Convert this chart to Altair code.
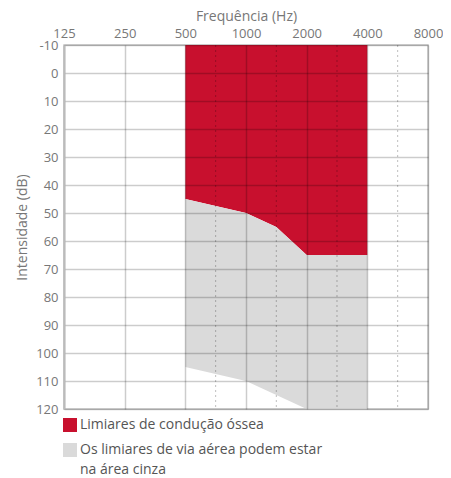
import altair as alt
import pandas as pd

# ---- data ----
freqs = [500, 1000, 1414, 2000, 4000]          # Hz (1414 = half-octave line "1500")
bone = [45, 50, 55, 65, 65]                      # bone-conduction limit (dB)
air_low = [105, 110, 115, 120, 120]              # lower edge of grey area (dB)
top_db = -10
series = ["Limiares de condução óssea",
          "Os limiares de via aérea podem estar na área cinza"]
colors = ["#c8102e", "#dadada"]
x_ticks = [125, 250, 500, 1000, 2000, 4000, 8000]
mid_freqs = [707, 1414, 2828, 5657]
y_ticks = list(range(-10, 121, 10))

rows = []
for f, b, a in zip(freqs, bone, air_low):
    rows.append({"f": f, "serie": series[0], "y": b, "y2": top_db})
    rows.append({"f": f, "serie": series[1], "y": a, "y2": b})
df = pd.DataFrame(rows)
mid_df = pd.DataFrame({"f": mid_freqs})

xscale = alt.Scale(type="log", base=2, domain=[125, 8000], nice=False)
yscale = alt.Scale(domain=[-10, 120], reverse=True, nice=False, zero=False)

areas = alt.Chart(df).mark_area(interpolate="linear", opacity=1).encode(
    x=alt.X("f:Q", scale=xscale,
            axis=alt.Axis(orient="top", values=x_ticks, title="Frequência (Hz)",
                          format="d", labelFlush=False, ticks=False, domain=False,
                          grid=True, zindex=1, labelPadding=5, titlePadding=4)),
    y=alt.Y("y:Q", scale=yscale, stack=None,
            axis=alt.Axis(values=y_ticks, title="Intensidade (dB)", ticks=False,
                          grid=True, zindex=1, labelPadding=6, titlePadding=6,
                          domain=True, labelExpr="replace(datum.label, '−', '-')")),
    y2="y2:Q",
    color=alt.Color("serie:N",
                    scale=alt.Scale(domain=series, range=colors),
                    legend=alt.Legend(
                        title=None, orient="none", legendX=-1, legendY=366,
                        direction="vertical", symbolType="M-1,0H1V2H-1Z",
                        symbolSize=196, symbolStrokeWidth=0, symbolOpacity=1,
                        labelFontSize=14, labelColor="#555", padding=0,
                        rowPadding=4, labelOffset=3, labelLimit=400,
                        labelBaseline="top",
                        labelExpr="datum.label == 'Os limiares de via aérea podem estar na área cinza' ? ['Os limiares de via aérea podem estar', 'na área cinza'] : datum.label",
                    )),
)

dotted = alt.Chart(mid_df).mark_rule(strokeDash=[2, 3], color="#000",
                                     opacity=0.25, strokeWidth=1).encode(
    x=alt.X("f:Q", scale=xscale)
)

chart = alt.layer(areas, dotted).properties(
    width=364, height=364,
    padding={"left": 7, "top": 1, "right": 0, "bottom": 0},
).configure(
    font="Open Sans",
    style={"guide-label": {"lineHeight": 20}},
).configure_axis(
    labelFontSize=13, labelColor="#777", titleFontSize=14, titleColor="#777",
    titleFontWeight="normal", gridColor="#000", gridOpacity=0.2, gridWidth=1.5,
    domainColor="#bbb", domainWidth=2, labelLineHeight=13,
).configure_view(stroke="#c4c4c4", strokeWidth=1.5)

chart.save("out.html", embed_options={"renderer": "svg", "actions": False})
